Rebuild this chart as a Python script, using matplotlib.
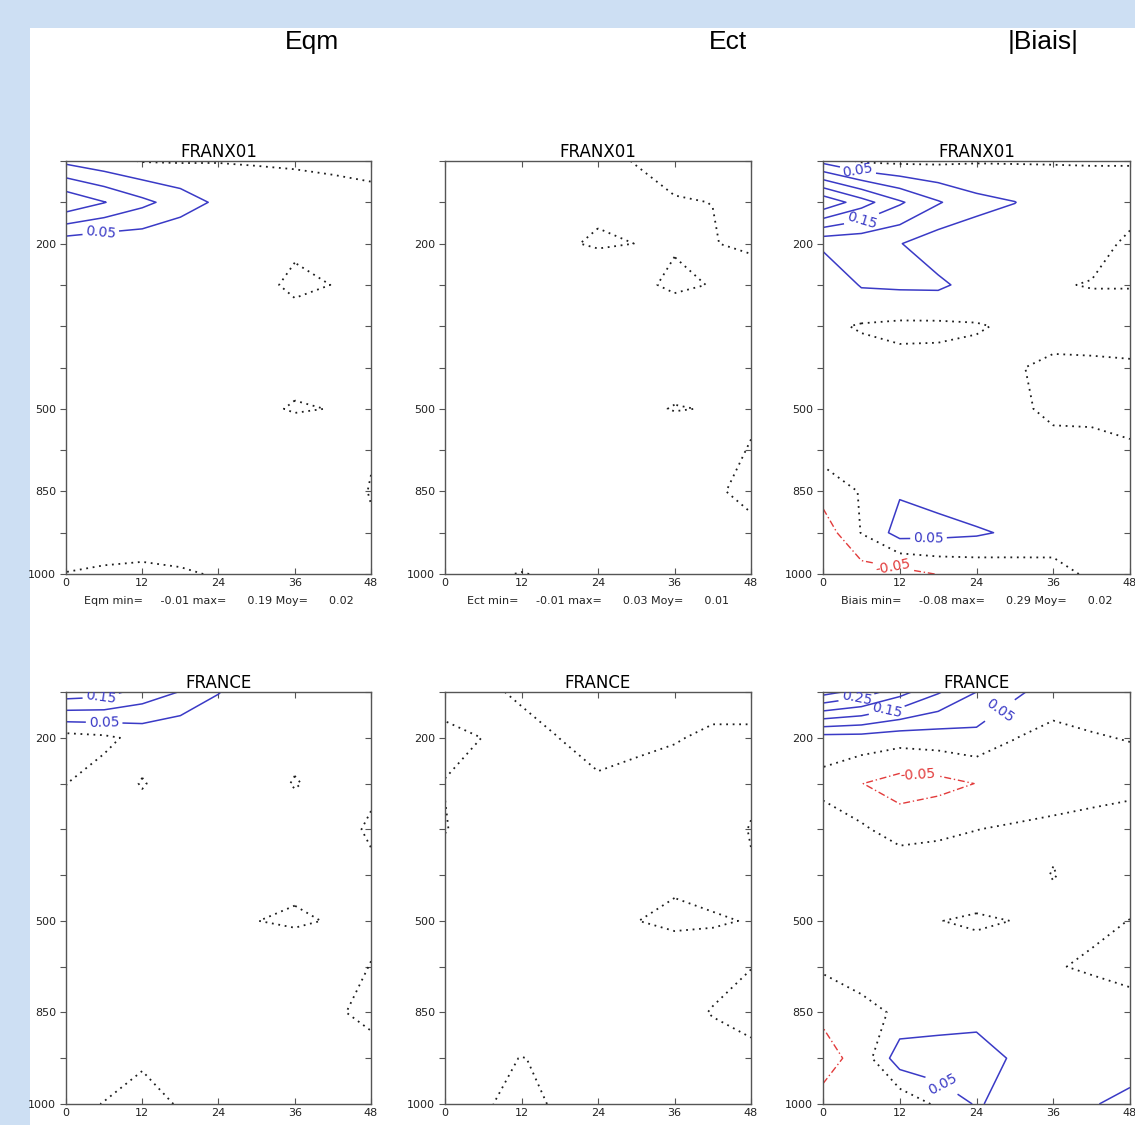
import numpy as np
import matplotlib.pyplot as plt
import matplotlib.lines as mlines
from matplotlib.patches import Rectangle

# echeances (h) et niveaux (hPa)
echeances = [0, 6, 12, 18, 24, 30, 36, 42, 48]
niveaux_franx01 = [100, 150, 200, 250, 300, 400, 500, 700, 850, 925, 1000]
niveaux_france = [150, 200, 250, 300, 400, 500, 700, 850, 925, 1000]
niveaux_affiches = [200, 500, 850, 1000]

# scores par niveau (lignes) et echeance (colonnes)
eqm_franx01 = [
    [0.038, 0.016, -0.003, -0.004, -0.002, -0.004, -0.010, -0.010, -0.010],
    [0.190, 0.152, 0.113, 0.077, 0.040, 0.030, 0.040, 0.020, 0.010],
    [0.019, 0.012, 0.015, 0.002, 0.010, 0.015, 0.006, 0.015, 0.020],
    [0.020, 0.020, 0.020, 0.020, 0.020, 0.010, -0.007, 0.0005, 0.015],
    [0.020, 0.020, 0.020, 0.020, 0.020, 0.020, 0.015, 0.020, 0.020],
    [0.020, 0.020, 0.020, 0.020, 0.020, 0.020, 0.008, 0.020, 0.020],
    [0.020, 0.020, 0.020, 0.020, 0.020, 0.005, -0.002, 0.0006, 0.010],
    [0.020, 0.020, 0.020, 0.020, 0.020, 0.020, 0.018, 0.015, 0.0015],
    [0.020, 0.020, 0.020, 0.020, 0.020, 0.020, 0.020, 0.010, -0.001],
    [0.020, 0.015, 0.012, 0.015, 0.020, 0.020, 0.020, 0.020, 0.0023],
    [-0.001, -0.004, -0.005, -0.003, 0.002, 0.010, 0.010, 0.010, 0.010],
]
ect_franx01 = [
    [0.010, 0.010, 0.010, 0.010, 0.0085, -0.0015, -0.010, -0.010, -0.010],
    [0.015, 0.015, 0.015, 0.012, 0.0051, 0.012, 0.002, -0.0003, -0.008],
    [0.015, 0.015, 0.012, 0.0034, -0.003, 0.0002, 0.0019, 0.002, -0.010],
    [0.020, 0.020, 0.020, 0.020, 0.022, 0.0049, -0.004, 0.0009, 0.030],
    [0.020, 0.020, 0.020, 0.020, 0.020, 0.020, 0.016, 0.020, 0.020],
    [0.015, 0.015, 0.015, 0.015, 0.015, 0.015, 0.009, 0.015, 0.015],
    [0.010, 0.010, 0.010, 0.010, 0.010, 0.0045, -0.001, 0.00093, 0.0057],
    [0.010, 0.010, 0.010, 0.010, 0.010, 0.010, 0.0157, 0.013, -0.002],
    [0.010, 0.010, 0.010, 0.010, 0.010, 0.010, 0.010, 0.00215, -0.004],
    [0.010, 0.010, 0.010, 0.010, 0.010, 0.010, 0.010, 0.010, 0.0038],
    [0.010, 0.002, -0.0005, 0.002, 0.010, 0.010, 0.010, 0.010, 0.010],
]
biais_franx01 = [
    [0.0347, -0.0077, -0.012, -0.010, -0.004, -0.004, -0.002, -0.002, -0.002],
    [0.290, 0.223, 0.157, 0.1045, 0.065, 0.051, 0.020, 0.015, 0.015],
    [0.060, 0.060, 0.052, 0.022, 0.021, 0.015, 0.015, 0.014, -0.007],
    [0.0074, 0.054, 0.058, 0.059, 0.032, 0.015, 0.003, -0.002, -0.002],
    [0.0093, -0.004, -0.0094, -0.009, -0.003, 0.0056, 0.0122, 0.020, 0.020],
    [0.015, 0.020, 0.0125, 0.0135, 0.012, 0.0022, -0.006, -0.008, -0.0053],
    [0.020, 0.020, 0.020, 0.020, 0.020, 0.0056, -0.006, -0.008, -0.006],
    [0.0185, 0.020, 0.020, 0.020, 0.020, 0.015, 0.009, 0.010, 0.0022],
    [-0.029, 0.0032, 0.045, 0.033, 0.0047, 0.010, 0.010, 0.010, 0.010],
    [-0.080, 0.002, 0.070, 0.065, 0.058, 0.040, 0.015, 0.015, 0.015],
    [-0.070, -0.075, -0.070, -0.048, -0.039, -0.027, -0.010, 0.005, 0.005],
]
eqm_france = [
    [0.180, 0.170, 0.130, 0.098, 0.052, 0.020, 0.015, 0.010, 0.010],
    [-0.020, -0.010, 0.014, 0.005, 0.010, 0.010, 0.010, 0.010, 0.010],
    [-0.0005, 0.0186, -0.002, 0.015, 0.015, 0.015, -0.002, 0.010, 0.0015],
    [0.010, 0.010, 0.015, 0.015, 0.015, 0.015, 0.015, 0.003, -0.001],
    [0.015, 0.015, 0.015, 0.015, 0.015, 0.015, 0.006, 0.015, 0.0015],
    [0.015, 0.015, 0.015, 0.015, 0.015, 0.0002, -0.003, 0.0014, 0.0037],
    [0.015, 0.015, 0.015, 0.015, 0.015, 0.015, 0.017, 0.007, -0.0005],
    [0.015, 0.015, 0.015, 0.015, 0.015, 0.015, 0.015, 0.00215, -0.004],
    [0.015, 0.0078, 0.0031, 0.010, 0.015, 0.015, 0.015, 0.010, 0.006],
    [0.0045, -0.0005, -0.008, 0.0018, 0.010, 0.010, 0.010, 0.010, 0.010],
]
ect_france = [
    [0.007, 0.0065, -0.005, -0.010, -0.012, -0.012, -0.012, -0.012, -0.012],
    [-0.004, 0.0002, 0.0111, -0.0002, -0.005, -0.005, -0.002, 0.005, 0.005],
    [0.0005, 0.010, 0.010, 0.0098, 0.00185, 0.0066, 0.012, 0.010, 0.004],
    [-0.001, 0.010, 0.010, 0.010, 0.010, 0.010, 0.010, 0.010, -0.001],
    [0.010, 0.010, 0.010, 0.010, 0.010, 0.010, 0.004, 0.008, 0.0015],
    [0.010, 0.010, 0.010, 0.010, 0.010, 0.0003, -0.004, -0.002, 0.001],
    [0.010, 0.010, 0.010, 0.010, 0.010, 0.010, 0.014, 0.0113, 0.00032],
    [0.010, 0.010, 0.010, 0.010, 0.010, 0.010, 0.0117, -0.0018, -0.005],
    [0.010, 0.0033, -0.0003, 0.002, 0.010, 0.010, 0.010, 0.016, 0.0041],
    [0.010, 0.0029, -0.008, 0.004, 0.010, 0.010, 0.010, 0.010, 0.010],
]
biais_france = [
    [0.320, 0.280, 0.220, 0.155, 0.100, 0.060, 0.025, 0.020, 0.020],
    [0.030, 0.030, 0.020, 0.025, 0.035, 0.001, -0.015, -0.003, 0.002],
    [-0.0169, -0.049, -0.070, -0.065, -0.049, -0.030, -0.020, -0.020, -0.020],
    [0.0288, 0.0086, -0.025, -0.010, -0.0005, 0.0049, 0.0086, 0.0177, 0.034],
    [0.020, 0.020, 0.045, 0.030, 0.020, 0.020, -0.002, 0.020, 0.012],
    [0.020, 0.020, 0.020, 0.0006, -0.004, 0.0006, 0.015, 0.006, -0.0005],
    [0.0076, 0.028, 0.020, 0.015, 0.015, 0.010, 0.00215, -0.004, -0.004],
    [-0.040, -0.0186, 0.0093, 0.010, 0.0274, 0.020, 0.015, 0.018, 0.0049],
    [-0.070, -0.031, 0.0795, 0.090, 0.080, 0.0417, 0.020, 0.015, 0.0144],
    [-0.034, -0.045, -0.040, 0.010, 0.055, 0.030, 0.020, 0.045, 0.070],
]

iso_neg = [-0.15, -0.10, -0.05]
iso_pos = [0.05, 0.10, 0.15, 0.20, 0.25, 0.30]
bleu = "#3a3ac6"
rouge = "#e23b3b"

W, H = 1135, 1125


def cadre(l, r, t, b):
    return [l / W, 1 - b / H, (r - l) / W, (b - t) / H]


def trace(ax, champ, niveaux, titre, nom=None, etiquettes=()):
    z = np.array(champ)
    x = np.array(echeances)
    y = np.arange(len(niveaux))
    zmin, zmax = z.min(), z.max()

    # une isoligne par appel, pour pouvoir etiqueter chacune a part
    iso = {}
    for v in iso_neg:
        if v > zmin:
            iso[v] = ax.contour(x, y, z, levels=[v], colors=rouge, linewidths=1.0,
                                linestyles=[(0, (5, 2, 1, 2))])
    ax.contour(x, y, z, levels=[0.0], colors="#1e1e1e", linewidths=1.3,
               linestyles=[(0, (1, 2.6))])
    for v in iso_pos:
        if v < zmax:
            iso[v] = ax.contour(x, y, z, levels=[v], colors=bleu, linewidths=1.1)

    by_level = {}
    for niv, px, py in etiquettes:
        by_level.setdefault(niv, []).append((px, py))
    for niv, pts in by_level.items():
        ax.clabel(iso[niv], manual=pts, fmt="%.2f", fontsize=10,
                  inline=True, inline_spacing=3)

    ax.set_xlim(0, 48)
    ax.set_ylim(len(niveaux) - 1, 0)
    ax.set_xticks([0, 12, 24, 36, 48])
    ax.set_yticks(y)
    ax.set_yticklabels([str(n) if n in niveaux_affiches else "" for n in niveaux])
    ax.tick_params(direction="in", top=True, right=True, length=4, width=0.8,
                   color="#555555", labelsize=8, labelcolor="#222222", pad=3)
    ax.tick_params(axis="y", pad=7)
    # graduations de gauche tournees vers l'exterieur
    for t in ax.yaxis.get_major_ticks():
        t.tick1line.set_marker(mlines.TICKLEFT)
    for s in ax.spines.values():
        s.set_color("#555555")
        s.set_linewidth(1.0)
    ax.set_title(titre, fontsize=12, pad=3)

    if nom:
        txt = f"{nom} min={zmin:10.2f} max={zmax:10.2f} Moy={z.mean():10.2f}"
        ax.text(0.5, -0.066, txt, transform=ax.transAxes, ha="center", va="center",
                fontsize=8, color="#222222")


fig = plt.figure(figsize=(W / 100, H / 100), dpi=100, facecolor="#cddff3")
fond = Rectangle((30 / W, 0), 1 - 30 / W, 1 - 28 / H, transform=fig.transFigure,
                 facecolor="white", edgecolor="none", zorder=-10)
fig.add_artist(fond)

for txt, xc in [("Eqm", 312), ("Ect", 728), ("|Biais|", 1043)]:
    fig.text(xc / W, 1 - 42 / H, txt, ha="center", va="center", fontsize=19,
             family="Liberation Sans")

colonnes = [(66, 371), (445, 751), (823, 1130)]

ax1 = fig.add_axes(cadre(*colonnes[0], 161, 574))
trace(ax1, eqm_franx01, niveaux_franx01, "FRANX01", "Eqm",
      [(0.05, 5.5, 1.78)])
ax2 = fig.add_axes(cadre(*colonnes[1], 161, 574))
trace(ax2, ect_franx01, niveaux_franx01, "FRANX01", "Ect")
ax3 = fig.add_axes(cadre(*colonnes[2], 161, 574))
trace(ax3, biais_franx01, niveaux_franx01, "FRANX01", "Biais",
      [(0.05, 5.5, 0.2), (0.15, 6.0, 1.4), (0.05, 16.5, 9.12), (-0.05, 11.0, 9.8)])

ax4 = fig.add_axes(cadre(*colonnes[0], 692, 1104))
trace(ax4, eqm_france, niveaux_france, "FRANCE",
      etiquettes=[(0.15, 5.5, 0.12), (0.05, 6.0, 0.68)])
ax5 = fig.add_axes(cadre(*colonnes[1], 692, 1104))
trace(ax5, ect_france, niveaux_france, "FRANCE")
ax6 = fig.add_axes(cadre(*colonnes[2], 692, 1104))
trace(ax6, biais_france, niveaux_france, "FRANCE",
      etiquettes=[(0.25, 5.3, 0.18), (0.15, 10.0, 0.42), (0.05, 28.0, 0.47),
                  (-0.05, 14.8, 1.8), (0.05, 18.0, 8.7)])

fig.savefig("out.png", dpi=100, facecolor=fig.get_facecolor())
